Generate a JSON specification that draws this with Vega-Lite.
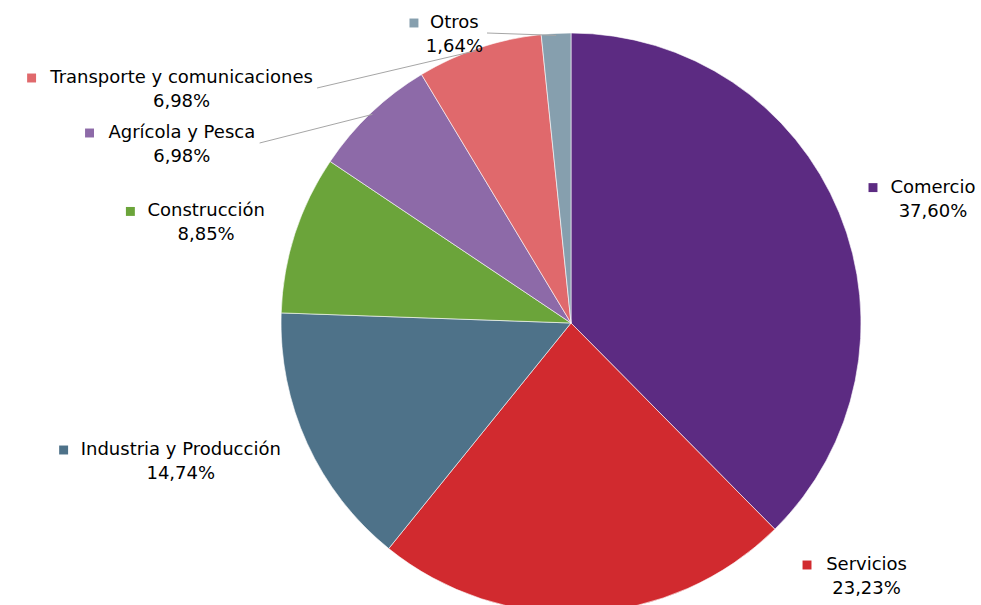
{
  "$schema": "https://vega.github.io/schema/vega-lite/v6.json",
  "width": 981,
  "height": 605,
  "padding": 0,
  "autosize": "none",
  "background": "white",
  "config": {"view": {"stroke": null}},
  "data": {
    "values": [
      {"categoria": "Comercio", "valor": 37.60, "orden": 1},
      {"categoria": "Servicios", "valor": 23.23, "orden": 2},
      {"categoria": "Industria y Producción", "valor": 14.74, "orden": 3},
      {"categoria": "Construcción", "valor": 8.85, "orden": 4},
      {"categoria": "Agrícola y Pesca", "valor": 6.98, "orden": 5},
      {"categoria": "Transporte y comunicaciones", "valor": 6.98, "orden": 6},
      {"categoria": "Otros", "valor": 1.64, "orden": 7}
    ]
  },
  "layer": [
    {
      "mark": {"type": "arc", "outerRadius": 290, "stroke": "white", "strokeWidth": 0.6},
      "encoding": {
        "theta": {"field": "valor", "type": "quantitative", "stack": true},
        "order": {"field": "orden", "type": "quantitative"},
        "color": {
          "field": "categoria",
          "type": "nominal",
          "legend": null,
          "scale": {
            "domain": ["Comercio", "Servicios", "Industria y Producción", "Construcción", "Agrícola y Pesca", "Transporte y comunicaciones", "Otros"],
            "range": ["#5c2b82", "#d12a2f", "#4e7289", "#6ba43a", "#8d6aa8", "#e0696c", "#869fae"]
          }
        },
        "x": {"datum": 0, "type": "quantitative", "scale": {"domain": [-571, 410], "nice": false, "zero": false}, "axis": null},
        "y": {"datum": 0, "type": "quantitative", "scale": {"domain": [-282, 323], "nice": false, "zero": false}, "axis": null}
      }
    },
    {
      "transform": [
        {"joinaggregate": [{"op": "sum", "field": "valor", "as": "total"}]},
        {"window": [{"op": "sum", "field": "valor", "as": "acum"}], "sort": [{"field": "orden"}], "frame": [null, 0]},
        {"calculate": "2*PI*(datum.acum - datum.valor/2)/datum.total", "as": "ang"},
        {"calculate": "sin(datum.ang) >= 0 ? 1 : -1", "as": "lado"},
        {"calculate": "330*cos(datum.ang)", "as": "yraw"},
        {"calculate": "clamp(datum.yraw, -252, 290)", "as": "yc"},
        {"window": [{"op": "row_number", "as": "rn"}], "groupby": ["lado"], "sort": [{"field": "yraw", "order": "descending"}]},
        {"calculate": "datum.yc + 55*(datum.rn-1)", "as": "tpush"},
        {"window": [{"op": "min", "field": "tpush", "as": "mpush"}], "groupby": ["lado"], "sort": [{"field": "yraw", "order": "descending"}], "frame": [null, 0]},
        {"calculate": "datum.mpush - 55*(datum.rn-1)", "as": "ly"},
        {"calculate": "abs(datum.ly - datum.yraw) > 30", "as": "movida"},
        {"calculate": "datum.yraw - datum.ly > 30", "as": "guia"},
        {"calculate": "sqrt(max(0, 290*290 - datum.ly*datum.ly))", "as": "ex"},
        {"calculate": "datum.ex + (datum.movida ? 88 : 36)", "as": "dist"},
        {"calculate": "replace(format(datum.valor, '.2f'), '.', ',') + '%'", "as": "pct"},
        {"calculate": "18*(0.6*length(datum.categoria) - 0.28*(length(datum.categoria) - length(replace(datum.categoria, regexp('[IiltrjÍí ]', 'g'), ''))) + 0.37*(length(datum.categoria) - length(replace(datum.categoria, regexp('m', 'g'), ''))))", "as": "tw"},
        {"calculate": "18*(0.636*(length(datum.pct) - 2) + 1.268)", "as": "pw"},
        {"calculate": "datum.lado > 0 ? datum.dist + 23 + datum.tw/2 : -datum.dist - max(datum.tw, datum.pw)/2", "as": "xc"},
        {"calculate": "datum.xc - datum.tw/2 - 18.5", "as": "xm"},
        {"calculate": "datum.ly + 10", "as": "y1"},
        {"calculate": "datum.ly - 14", "as": "y2"},
        {"calculate": "datum.lado > 0 ? datum.xc - datum.tw/2 - 27 : datum.xc + max(datum.tw, datum.pw)/2 + 4", "as": "gx"},
        {"calculate": "288*sin(datum.ang)", "as": "sx"},
        {"calculate": "288*cos(datum.ang)", "as": "sy"}
      ],
      "layer": [
        {
          "transform": [{"filter": "datum.guia"}],
          "mark": {"type": "rule", "color": "#a6a6a6", "strokeWidth": 1},
          "encoding": {
            "x": {"field": "gx", "type": "quantitative", "scale": {"domain": [-571, 410], "nice": false, "zero": false}, "axis": null},
            "y": {"field": "ly", "type": "quantitative", "scale": {"domain": [-282, 323], "nice": false, "zero": false}, "axis": null},
            "x2": {"field": "sx"},
            "y2": {"field": "sy"}
          }
        },
        {
          "mark": {"type": "point", "shape": "square", "filled": true, "size": 80, "opacity": 1},
          "encoding": {
            "x": {"field": "xm", "type": "quantitative", "scale": {"domain": [-571, 410], "nice": false, "zero": false}, "axis": null},
            "y": {"field": "y1", "type": "quantitative", "scale": {"domain": [-282, 323], "nice": false, "zero": false}, "axis": null},
            "color": {"field": "categoria", "type": "nominal", "legend": null}
          }
        },
        {
          "mark": {"type": "text", "font": "DejaVu Sans", "fontSize": 18, "color": "#000000", "align": "center", "baseline": "middle"},
          "encoding": {
            "x": {"field": "xc", "type": "quantitative", "scale": {"domain": [-571, 410], "nice": false, "zero": false}, "axis": null},
            "y": {"field": "y1", "type": "quantitative", "scale": {"domain": [-282, 323], "nice": false, "zero": false}, "axis": null},
            "text": {"field": "categoria", "type": "nominal"}
          }
        },
        {
          "mark": {"type": "text", "font": "DejaVu Sans", "fontSize": 18, "color": "#000000", "align": "center", "baseline": "middle"},
          "encoding": {
            "x": {"field": "xc", "type": "quantitative", "scale": {"domain": [-571, 410], "nice": false, "zero": false}, "axis": null},
            "y": {"field": "y2", "type": "quantitative", "scale": {"domain": [-282, 323], "nice": false, "zero": false}, "axis": null},
            "text": {"field": "pct", "type": "nominal"}
          }
        }
      ]
    }
  ]
}
